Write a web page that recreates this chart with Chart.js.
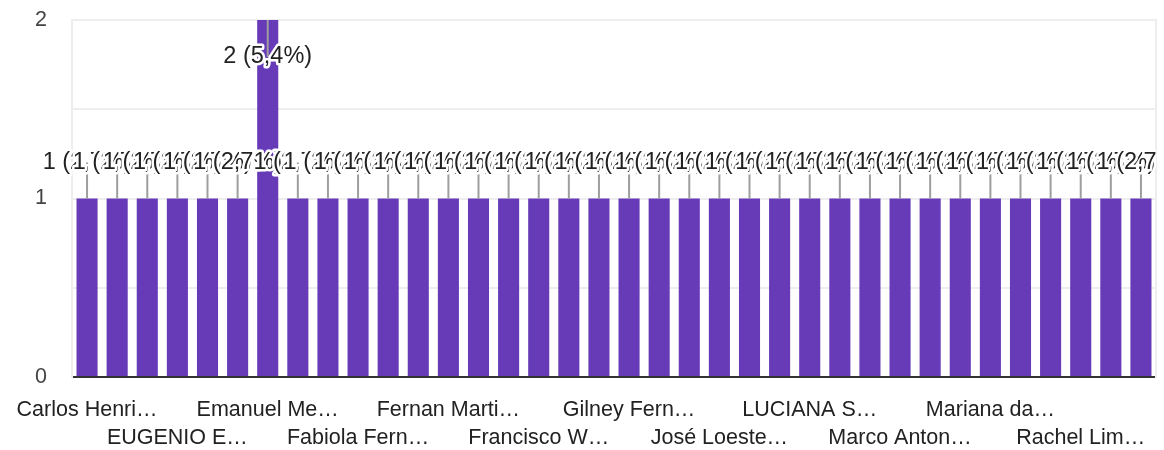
<!DOCTYPE html>
<html>
<head>
<meta charset="utf-8">
<script src="https://cdn.jsdelivr.net/npm/chart.js@4/dist/chart.umd.min.js"></script>
<style>
  html, body { margin: 0; padding: 0; background: #fff; overflow: hidden; }
  #wrap { width: 1164px; height: 450px; position: relative; }
</style>
</head>
<body>
<div id="wrap"><canvas id="barChart"></canvas></div>
<script>
// Respondents (sorted as in the form summary), only every third name is shown on the axis
const categories = [
    'Carlos Henri…', 'Cláudia Ribeiro', 'Daniel Souza',
    'EUGENIO E…', 'Edson Lima', 'Elaine Costa',
    'Emanuel Me…', 'Evandro Silva', 'Ewerton Dias',
    'Fabiola Fern…', 'Felipe Andrade', 'Felix Moura',
    'Fernan Marti…', 'Flávia Santos', 'Francisca Lopes',
    'Francisco W…', 'Gabriel Rocha', 'Geraldo Pinto',
    'Gilney Fern…', 'Helena Moraes', 'Igor Batista',
    'José Loeste…', 'Juliana Prado', 'Kátia Barros',
    'LUCIANA S…', 'Lucas Teixeira', 'Luiz Carvalho',
    'Marco Anton…', 'Maria Eduarda', 'Mariana Alves',
    'Mariana da…', 'Natália Reis', 'Paulo Mendes',
    'Rachel Lim…', 'Renato Farias', 'Sandra Oliveira'
];
const counts = [
    1, 1, 1, 1, 1, 1, 2, 1, 1, 1, 1, 1,
    1, 1, 1, 1, 1, 1, 1, 1, 1, 1, 1, 1,
    1, 1, 1, 1, 1, 1, 1, 1, 1, 1, 1, 1
];
const yTicks = [0, 1, 2];

const FONT = '"Liberation Sans", Arial, sans-serif';
const total = counts.reduce((a, b) => a + b, 0);

function pctLabel(v) {
    return v + ' (' + (v / total * 100).toFixed(1).replace('.', ',') + '%)';
}

// value labels with grey leader lines, like the Forms summary chart
const valueLabels = {
    id: 'valueLabels',
    afterDatasetsDraw(chart) {
        const ctx = chart.ctx;
        const area = chart.chartArea;
        const bars = chart.getDatasetMeta(0).data;
        const spots = bars.map((bar, i) => {
            const above = bar.y - 36 > area.top + 10;
            return { x: bar.x, top: bar.y, y: above ? bar.y - 36 : bar.y + 37, text: pctLabel(counts[i]) };
        });

        ctx.save();
        ctx.beginPath();
        ctx.rect(0, 0, area.right, chart.height);
        ctx.clip();

        ctx.strokeStyle = '#9e9e9e';
        ctx.lineWidth = 2;
        spots.forEach(s => {
            ctx.beginPath();
            ctx.moveTo(s.x, s.top);
            ctx.lineTo(s.x, s.y);
            ctx.stroke();
        });

        ctx.font = '23.5px ' + FONT;
        ctx.textAlign = 'center';
        ctx.textBaseline = 'middle';
        ctx.lineJoin = 'round';
        spots.forEach(s => {
            ctx.strokeStyle = '#ffffff';
            ctx.lineWidth = 5;
            ctx.strokeText(s.text, s.x, s.y);
            ctx.fillStyle = '#222222';
            ctx.fillText(s.text, s.x, s.y);
        });
        ctx.restore();
    }
};

function noVerticalPadding(scale) {
    scale.paddingTop = 0;
    scale.paddingBottom = 0;
}

new Chart(document.getElementById('barChart'), {
    type: 'bar',
    data: {
        labels: categories,
        datasets: [{
            data: counts,
            backgroundColor: '#673ab7',
            borderWidth: 0,
            categoryPercentage: 0.7,
            barPercentage: 1.0
        }]
    },
    options: {
        responsive: true,
        maintainAspectRatio: false,
        animation: false,
        layout: { padding: { top: 20, right: 8, left: 0, bottom: 0 } },
        plugins: {
            legend: { display: false },
            tooltip: { enabled: false }
        },
        scales: {
            x: {
                grid: { display: false },
                border: { display: false },
                ticks: {
                    autoSkip: false,
                    maxRotation: 0,
                    minRotation: 0,
                    padding: 11,
                    color: '#222222',
                    font: { family: FONT, size: 21.5, lineHeight: 1.3 },
                    callback: function(value, index) {
                        if (index % 3 !== 0) return '';
                        const name = categories[index];
                        return index % 6 === 0 ? name : ['', name];
                    }
                },
                afterFit: function(scale) { scale.height = 73; }
            },
            y: {
                min: 0,
                max: 2,
                ticks: {
                    stepSize: 0.5,
                    padding: 25,
                    color: '#444444',
                    font: { family: FONT, size: 21.5 },
                    callback: function(value) {
                        return yTicks.includes(value) ? String(value) : '';
                    }
                },
                grid: {
                    drawTicks: false,
                    lineWidth: 2,
                    color: function(c) {
                        return c.tick && c.tick.value === 0 ? '#333333' : '#eeeeee';
                    }
                },
                border: { display: true, color: '#eeeeee', width: 2 },
                afterFit: function(scale) {
                    scale.width = 72;
                    noVerticalPadding(scale);
                }
            },
            yEdge: {
                position: 'right',
                min: 0,
                max: 2,
                ticks: { display: false },
                grid: { display: false, drawTicks: false },
                border: { display: true, color: '#eeeeee', width: 2 },
                afterFit: function(scale) {
                    scale.width = 0;
                    noVerticalPadding(scale);
                }
            }
        }
    },
    plugins: [valueLabels]
});
</script>
</body>
</html>
